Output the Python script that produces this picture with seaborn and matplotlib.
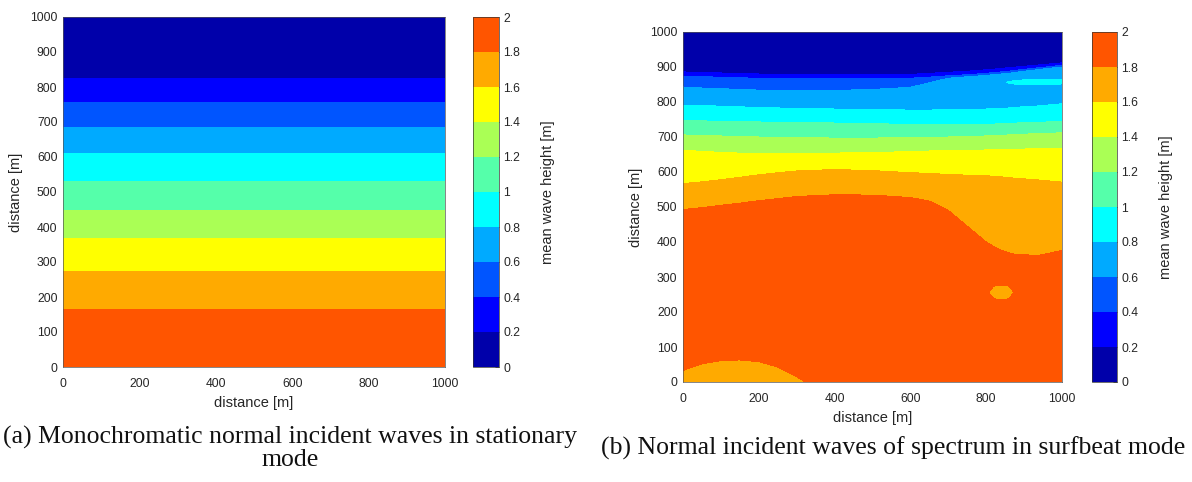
import numpy as np
import matplotlib
matplotlib.use("Agg")
import matplotlib.pyplot as plt
import seaborn as sns

# ---------------------------------------------------------------------------
# Data
# ---------------------------------------------------------------------------
# Contour levels of mean wave height [m] and the band colours (jet, 10 bands)
levels = [0.0, 0.2, 0.4, 0.6, 0.8, 1.0, 1.2, 1.4, 1.6, 1.8, 2.0]
band_colors = ["#0000aa", "#0000ff", "#0055ff", "#00aaff", "#00ffff",
               "#55ffaa", "#aaff55", "#ffff00", "#ffaa00", "#ff5500"]
cbar_ticks = [0, 0.2, 0.4, 0.6, 0.8, 1, 1.2, 1.4, 1.6, 1.8, 2]

# (a) stationary mode: wave height depends on cross-shore distance only
a_x = [0, 1000]
a_y = [0, 165, 274, 368, 448, 531, 610, 685, 756, 825, 1000]
a_height = [1.9, 1.8, 1.6, 1.4, 1.2, 1.0, 0.8, 0.6, 0.4, 0.2, 0.1]

# (b) surfbeat mode: alongshore stations and contour positions per station
b_x = [0, 50, 100, 150, 200, 250, 300, 400, 500, 600, 650, 700, 750, 800,
       820, 840, 860, 880, 940, 1000]
n_b = len(b_x)

# shoreline row (y = 0) and the low patch near the left corner
b_edge_y = [0] * n_b
b_edge_h = [1.7, 1.7, 1.7, 1.7, 1.7, 1.72, 1.77] + [1.9] * 13
b_patch_y = [33, 52, 61, 63, 58, 43, 15] + [60] * 13
b_patch_h = [1.8] * 7 + [1.9] * 13

# small lower spot around x = 840 m, y = 256 m
b_spot_lo_y = [229] * n_b
b_spot_lo_h = [1.85] * n_b
b_spot_y = [256] * n_b
b_spot_h = [1.85] * 14 + [1.7, 1.62, 1.7] + [1.85] * 3
b_spot_hi_y = [283] * n_b
b_spot_hi_h = [1.85] * n_b

# positions [m] of the contour lines 1.8 ... 0.2 m
b_y18 = [493, 498, 505, 511, 518, 524, 530, 535, 534, 527, 517, 490, 445, 400, 387, 376, 369, 364, 362, 376]
b_y16 = [567, 572, 578, 585, 592, 598, 603, 607, 604, 598, 596, 593, 591, 589, 588, 586, 584, 582, 577, 571]
b_y14 = [662, 659, 656, 654, 652, 652, 652, 654, 656, 658, 660, 661, 662, 663, 664, 664, 665, 665, 667, 668]
b_y12 = [706, 704, 703, 701, 700, 699, 698, 697, 697, 698, 699, 700, 702, 703, 704, 705, 706, 707, 710, 712]
b_y10 = [747, 746, 745, 744, 743, 742, 741, 740, 738, 736, 736, 736, 736, 737, 737, 738, 739, 740, 742, 745]
b_y08 = [791, 790, 788, 786, 785, 783, 782, 780, 778, 777, 777, 778, 779, 780, 781, 782, 783, 785, 789, 795]
b_y06 = [843, 840, 838, 836, 834, 833, 832, 833, 836, 842, 855, 868, 872, 876, 878, 880, 882, 885, 893, 900]
b_y04 = [874, 872, 871, 869, 868, 867, 867, 866, 867, 868, 871, 875, 878, 882, 884, 886, 888, 891, 898, 905]
b_y02 = [886, 884, 883, 881, 880, 879, 879, 878, 878, 879, 882, 885, 888, 892, 894, 896, 898, 900, 906, 912]

# higher streak inside the 0.6-0.8 m band near the right boundary
b_streak_lo_y = [800] * 14 + [841, 842, 842, 843, 844, 846]
b_streak_lo_h = [0.7] * n_b
b_streak_y = [810] * 14 + [855, 856, 856, 856, 856, 857]
b_streak_h = [0.7] * 14 + [0.7, 0.76, 0.82, 0.88, 0.9, 0.9]
b_streak_hi_y = [820] * 14 + [869, 870, 870, 871, 871, 872]
b_streak_hi_h = [0.7] * n_b

b_top_y = [1000] * n_b
b_top_h = [0.1] * n_b

# ---------------------------------------------------------------------------
# Style
# ---------------------------------------------------------------------------
sns.set_theme(style="white")
plt.rcParams["font.family"] = ["Liberation Sans", "DejaVu Sans"]
plt.rcParams["axes.linewidth"] = 0.6
text_color = "#262626"

fig = plt.figure(figsize=(11.92, 4.82), dpi=100)


def style_axes(ax):
    ax.set_xlim(0, 1000)
    ax.set_ylim(0, 1000)
    ax.set_xticks(range(0, 1001, 200))
    ax.set_yticks(range(0, 1001, 100))
    ax.tick_params(direction="in", length=3, width=0.5, labelsize=8.7,
                   colors=text_color)
    ax.tick_params(axis="x", pad=8)
    ax.tick_params(axis="y", pad=4)
    for s in ax.spines.values():
        s.set_color("#555555")
        s.set_linewidth(0.5)
    ax.set_xlabel("distance [m]", fontsize=10.5, color=text_color, labelpad=4)
    ax.set_ylabel("distance [m]", fontsize=10.5, color=text_color, labelpad=5)


def add_cbar(cs, rect):
    cax = fig.add_axes(rect)
    cb = fig.colorbar(cs, cax=cax, ticks=cbar_ticks)
    cb.ax.set_yticklabels([f"{t:g}" for t in cbar_ticks])
    cb.ax.tick_params(direction="in", length=3, width=0.5, labelsize=8.7,
                      colors=text_color, pad=3)
    cb.outline.set_linewidth(0.5)
    cb.outline.set_edgecolor("#333333")
    cb.set_label("mean wave height [m]", fontsize=10.5, color=text_color,
                 labelpad=15)
    return cb


# (a) stationary mode
ax_a = fig.add_axes([63 / 1192, 1 - 367 / 482, 382 / 1192, 350 / 482])
Xa, Ya = np.meshgrid(a_x, a_y)
Za = np.tile(np.array(a_height)[:, None], (1, len(a_x)))
cs_a = ax_a.contourf(Xa, Ya, Za, levels=levels, colors=band_colors)
style_axes(ax_a)
add_cbar(cs_a, [473 / 1192, 1 - 367 / 482, 26 / 1192, 350 / 482])

# (b) surfbeat mode, curvilinear grid of rows stacked from shore to offshore
rows_y = [b_edge_y, b_patch_y, b_spot_lo_y, b_spot_y, b_spot_hi_y,
          b_y18, b_y16, b_y14, b_y12, b_y10, b_y08,
          b_streak_lo_y, b_streak_y, b_streak_hi_y,
          b_y06, b_y04, b_y02, b_top_y]
rows_h = [b_edge_h, b_patch_h, b_spot_lo_h, b_spot_h, b_spot_hi_h,
          [1.8] * n_b, [1.6] * n_b, [1.4] * n_b, [1.2] * n_b, [1.0] * n_b,
          [0.8] * n_b,
          b_streak_lo_h, b_streak_h, b_streak_hi_h,
          [0.6] * n_b, [0.4] * n_b, [0.2] * n_b, b_top_h]
Yb = np.array(rows_y, dtype=float)
Zb = np.array(rows_h, dtype=float)
Xb = np.tile(np.array(b_x, dtype=float), (len(rows_y), 1))

ax_b = fig.add_axes([683 / 1192, 1 - 382 / 482, 379 / 1192, 350 / 482])
cs_b = ax_b.contourf(Xb, Yb, Zb, levels=levels, colors=band_colors)
style_axes(ax_b)
add_cbar(cs_b, [1092 / 1192, 1 - 382 / 482, 25 / 1192, 350 / 482])

# Sub-figure captions
cap_kw = dict(fontsize=18.5, family=["Liberation Serif", "DejaVu Serif"],
              color="#111111", ha="center", va="center")
fig.text(290 / 1192, 1 - 437 / 482,
         "(a) Monochromatic normal incident waves in stationary", **cap_kw)
fig.text(290 / 1192, 1 - 460 / 482, "mode", **cap_kw)
fig.text(893 / 1192, 1 - 448 / 482,
         "(b) Normal incident waves of spectrum in surfbeat mode", **cap_kw)

fig.savefig("out.png", dpi=100, facecolor="white")
